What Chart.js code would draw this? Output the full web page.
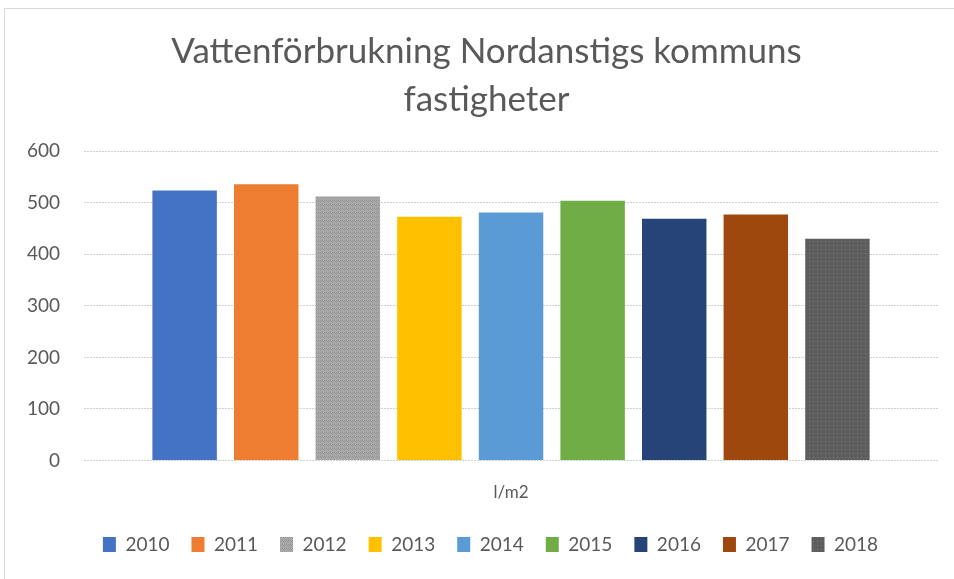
<!DOCTYPE html>
<html lang="sv">
<head>
<meta charset="UTF-8">
<title>Vattenförbrukning Nordanstigs kommuns fastigheter</title>
<script src="https://cdn.jsdelivr.net/npm/chart.js@4/dist/chart.umd.min.js"></script>
<style>
    body { margin: 0; background: #fff; }
    #wrap { position: relative; width: 954px; height: 579px; }
    #frame { position: absolute; left: 4px; top: 8px; width: 960px; height: 580px; border: 1px solid #d9d9d9; box-sizing: border-box; }
    canvas { position: absolute; left: 0; top: 0; }
</style>
</head>
<body>
<div id="wrap">
    <div id="frame"></div>
    <canvas id="chart" width="954" height="579"></canvas>
</div>
<script>
    const categories = ['l/m2'];
    const years = ['2010', '2011', '2012', '2013', '2014', '2015', '2016', '2017', '2018'];
    const values = [524, 536, 512, 473, 481, 504, 469, 477, 430];
    const colors = ['#4472C4', '#ED7D31', '#A5A5A5', '#FFC000', '#5B9BD5', '#70AD47', '#264478', '#9E480E', '#636363'];
    const yTicks = [0, 100, 200, 300, 400, 500, 600];

    const textColor = '#595959';

    // small textures like the ones Excel put on 2012 and 2018
    function makePattern(base, spot, cells) {
        const c = document.createElement('canvas');
        c.width = 4; c.height = 4;
        const g = c.getContext('2d');
        g.fillStyle = base;
        g.fillRect(0, 0, 4, 4);
        g.fillStyle = spot;
        cells.forEach(p => g.fillRect(p[0], p[1], 1, 1));
        return g.createPattern(c, 'repeat');
    }
    const fills = colors.slice();
    fills[2] = makePattern('#adadad', '#939393', [[0, 0], [1, 1], [2, 0], [3, 1], [0, 2], [2, 3]]);
    fills[8] = makePattern('#5e5e5e', '#7c7c7c', [[1, 1]]);

    const datasets = years.map((y, i) => ({
        label: y,
        data: [values[i]],
        backgroundColor: fills[i],
        borderWidth: 0,
        categoryPercentage: 0.86,
        barPercentage: 0.79
    }));

    // title and legend sit a bit right of centre in the original
    const shiftBoxes = {
        id: 'shiftBoxes',
        afterLayout(chart) {
            const lg = chart.legend;
            lg.left += 20;
            lg.right += 20;
            lg.legendHitBoxes.forEach(b => { b.left += 20; });
            chart.titleBlock.left += 16;
            chart.titleBlock.right += 16;
        }
    };

    new Chart(document.getElementById('chart'), {
        type: 'bar',
        data: { labels: categories, datasets: datasets },
        plugins: [shiftBoxes],
        options: {
            responsive: false,
            animation: false,
            layout: { padding: { left: 3, right: 16, top: 28, bottom: 15 } },
            plugins: {
                title: {
                    display: true,
                    text: ['Vattenförbrukning Nordanstigs kommuns', 'fastigheter'],
                    color: textColor,
                    font: { family: 'Lato', size: 35, weight: 'normal', lineHeight: 1.36 },
                    padding: { top: 0, bottom: 28 }
                },
                legend: {
                    position: 'bottom',
                    labels: {
                        color: textColor,
                        font: { family: 'Lato', size: 19 },
                        boxWidth: 13,
                        boxHeight: 15,
                        padding: 22
                    }
                },
                tooltip: { enabled: false }
            },
            scales: {
                x: {
                    grid: { display: false },
                    border: { display: false },
                    ticks: { color: textColor, font: { family: 'Lato', size: 17, lineHeight: 0.03 }, padding: 24 },
                    afterFit: axis => { axis.height -= 4; }
                },
                y: {
                    min: 0,
                    max: 600,
                    afterBuildTicks: axis => { axis.ticks = yTicks.map(v => ({ value: v })); },
                    grid: { color: '#d0d0d0', drawTicks: false },
                    border: { display: false, dash: [2, 1] },
                    ticks: { color: textColor, font: { family: 'Lato', size: 19 }, padding: 24 }
                }
            }
        }
    });
</script>
</body>
</html>
